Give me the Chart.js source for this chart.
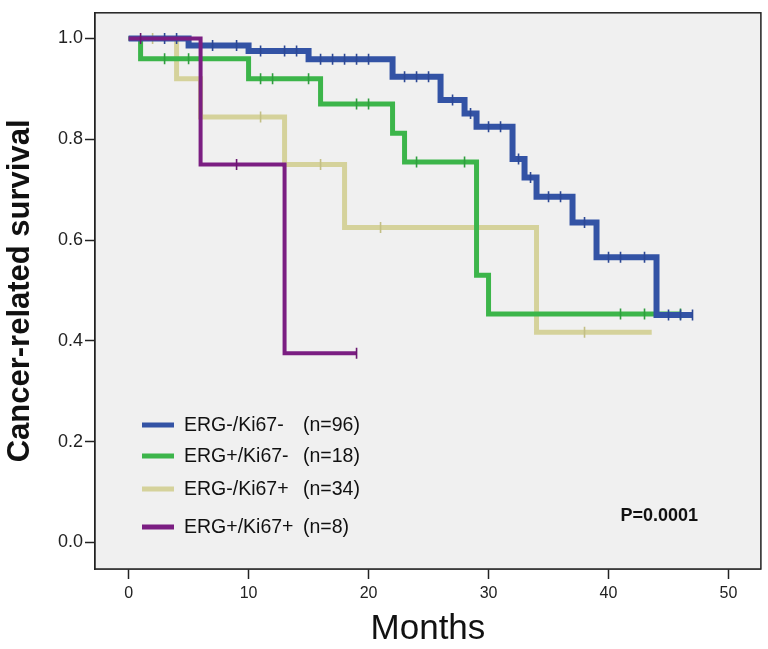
<!DOCTYPE html>
<html>
<head>
<meta charset="utf-8">
<script src="https://cdn.jsdelivr.net/npm/chart.js@4.4.1/dist/chart.umd.min.js"></script>
<style>
  html, body { margin: 0; padding: 0; background: #ffffff; }
  #wrap { width: 768px; height: 649px; }
</style>
</head>
<body>
<div id="wrap"><canvas id="c" width="768" height="649"></canvas></div>
<script>
// ---- data ----
const xTicks = [0, 10, 20, 30, 40, 50];
const yTicks = [0.0, 0.2, 0.4, 0.6, 0.8, 1.0];
const xTitle = 'Months';
const yTitle = 'Cancer-related survival';
const pValue = 'P=0.0001';

const groupNames = ['ERG-/Ki67-', 'ERG+/Ki67-', 'ERG-/Ki67+', 'ERG+/Ki67+'];
const groupN = ['(n=96)', '(n=18)', '(n=34)', '(n=8)'];

// ERG-/Ki67-
const blueTimes = [0, 5, 10, 15, 22, 26, 28, 29, 32, 33, 34, 37, 39, 44, 47];
const blueSurv  = [1, 0.986, 0.975, 0.959, 0.924, 0.878, 0.851, 0.825, 0.761, 0.724, 0.686, 0.635, 0.566, 0.451, 0.451];
const blueCensor = [3, 4, 6, 7, 9, 11, 13, 14, 16, 17, 18, 19, 20, 23, 24, 25, 27, 28.5, 30, 31, 32.5, 33.5, 35, 36, 38, 40, 41, 43, 45, 46, 47];

// ERG+/Ki67-
const greenTimes = [0, 1, 10, 16, 22, 23, 29, 30, 46];
const greenSurv  = [1, 0.96, 0.92, 0.87, 0.812, 0.755, 0.53, 0.453, 0.453];
const greenCensor = [3, 5, 11, 12, 15, 19, 20, 24, 28, 41, 43, 46];

// ERG-/Ki67+
const khakiTimes = [0, 4, 6, 13, 18, 34, 43.6];
const khakiSurv  = [1, 0.92, 0.844, 0.75, 0.625, 0.417, 0.417];
const khakiCensor = [2, 11, 16, 21, 38];

// ERG+/Ki67+
const purpleTimes = [0, 6, 13, 19];
const purpleSurv  = [1, 0.75, 0.375, 0.375];
const purpleCensor = [1, 9, 19];

const colors = ['#3353a5', '#3cb54a', '#d5d29b', '#7b1e82'];
const censorColors = ['#2c4895', '#2f9e3e', '#c3bf85', '#6a166f'];
const widths = [6, 5, 5, 4];

// ---- build datasets ----
function steps(times, surv) {
  return times.map((t, i) => ({ x: t, y: surv[i] }));
}
function censorPts(censor, times, surv) {
  return censor.map(t => {
    let v = surv[0];
    for (let i = 0; i < times.length; i++) if (times[i] <= t) v = surv[i];
    return { x: t, y: v };
  });
}
const groups = [
  [blueTimes, blueSurv, blueCensor],
  [greenTimes, greenSurv, greenCensor],
  [khakiTimes, khakiSurv, khakiCensor],
  [purpleTimes, purpleSurv, purpleCensor]
];
const drawOrder = [1, 2, 3, 0]; // lower = on top
const datasets = [];
groups.forEach((g, i) => {
  datasets.push({
    label: groupNames[i],
    data: steps(g[0], g[1]),
    showLine: true,
    stepped: 'before',
    borderColor: colors[i],
    backgroundColor: colors[i],
    borderWidth: widths[i],
    borderJoinStyle: 'miter',
    borderCapStyle: 'butt',
    pointRadius: 0,
    fill: false,
    order: drawOrder[i] * 2 + 1
  });
  datasets.push({
    label: groupNames[i] + ' censored',
    data: censorPts(g[2], g[0], g[1]),
    showLine: false,
    pointStyle: 'line',
    rotation: 90,
    pointRadius: 5.5,
    pointBorderWidth: 1.6,
    pointBorderColor: censorColors[i],
    pointBackgroundColor: censorColors[i],
    order: drawOrder[i] * 2
  });
});

// ---- plugins ----
const bgFrame = {
  id: 'bgFrame',
  beforeDatasetsDraw(chart) {
    const a = chart.chartArea, ctx = chart.ctx;
    ctx.save();
    ctx.fillStyle = '#f0f0f0';
    ctx.fillRect(a.left, a.top, a.right - a.left, a.bottom - a.top);
    ctx.restore();
  },
  afterDraw(chart) {
    const a = chart.chartArea, ctx = chart.ctx;
    ctx.save();
    ctx.strokeStyle = '#222';
    ctx.lineWidth = 1.5;
    ctx.strokeRect(a.left, a.top, a.right - a.left, a.bottom - a.top);
    ctx.restore();
  }
};
const legendPlugin = {
  id: 'kmLegend',
  afterDatasetsDraw(chart) {
    const ctx = chart.ctx;
    const rows = [425, 456, 489, 527];
    ctx.save();
    ctx.font = '19.5px "Liberation Sans", Arial, sans-serif';
    ctx.textBaseline = 'middle';
    ctx.fillStyle = '#111';
    for (let i = 0; i < groupNames.length; i++) {
      ctx.strokeStyle = colors[i];
      ctx.lineWidth = 5;
      ctx.beginPath();
      ctx.moveTo(142, rows[i]);
      ctx.lineTo(174, rows[i]);
      ctx.stroke();
      ctx.fillText(groupNames[i], 184, rows[i] + 1);
      ctx.fillText(groupN[i], 303, rows[i] + 1);
    }
    ctx.font = 'bold 18px "Liberation Sans", Arial, sans-serif';
    ctx.textAlign = 'right';
    ctx.fillText(pValue, 698, 516);
    ctx.restore();
  }
};

new Chart(document.getElementById('c'), {
  type: 'scatter',
  data: { datasets },
  options: {
    responsive: false,
    animation: false,
    devicePixelRatio: 1,
    layout: { padding: { top: 6, right: 7, left: 0, bottom: 0 } },
    plugins: { legend: { display: false }, tooltip: { enabled: false } },
    scales: {
      x: {
        type: 'linear',
        min: -2.8,
        max: 52.7,
        afterBuildTicks(s) { s.ticks = xTicks.map(v => ({ value: v })); },
        afterFit(s) { s.height = 80; },
        grid: { drawOnChartArea: false, drawTicks: true, tickLength: 10, tickWidth: 1.5, tickColor: '#222' },
        border: { display: true, color: '#222', width: 1.5 },
        ticks: { color: '#222', font: { family: '"Liberation Sans", Arial, sans-serif', size: 16 }, padding: 5, maxRotation: 0 },
        title: { display: true, text: xTitle, color: '#111', font: { family: '"Liberation Sans", Arial, sans-serif', size: 35 }, padding: { top: 0, bottom: -1 } }
      },
      y: {
        type: 'linear',
        min: -0.053,
        max: 1.051,
        afterBuildTicks(s) { s.ticks = yTicks.map(v => ({ value: v })); },
        afterFit(s) { s.width = 95; },
        grid: { drawOnChartArea: false, drawTicks: true, tickLength: 10, tickWidth: 1.5, tickColor: '#222' },
        border: { display: true, color: '#222', width: 1.5 },
        ticks: { color: '#222', font: { family: '"Liberation Sans", Arial, sans-serif', size: 18 }, padding: 2, callback: v => v.toFixed(1) },
        title: { display: true, text: yTitle, color: '#111', font: { family: '"Liberation Sans", Arial, sans-serif', size: 31, weight: 'bold' }, padding: { top: 2, bottom: 0 } }
      }
    }
  },
  plugins: [bgFrame, legendPlugin]
});
</script>
</body>
</html>
